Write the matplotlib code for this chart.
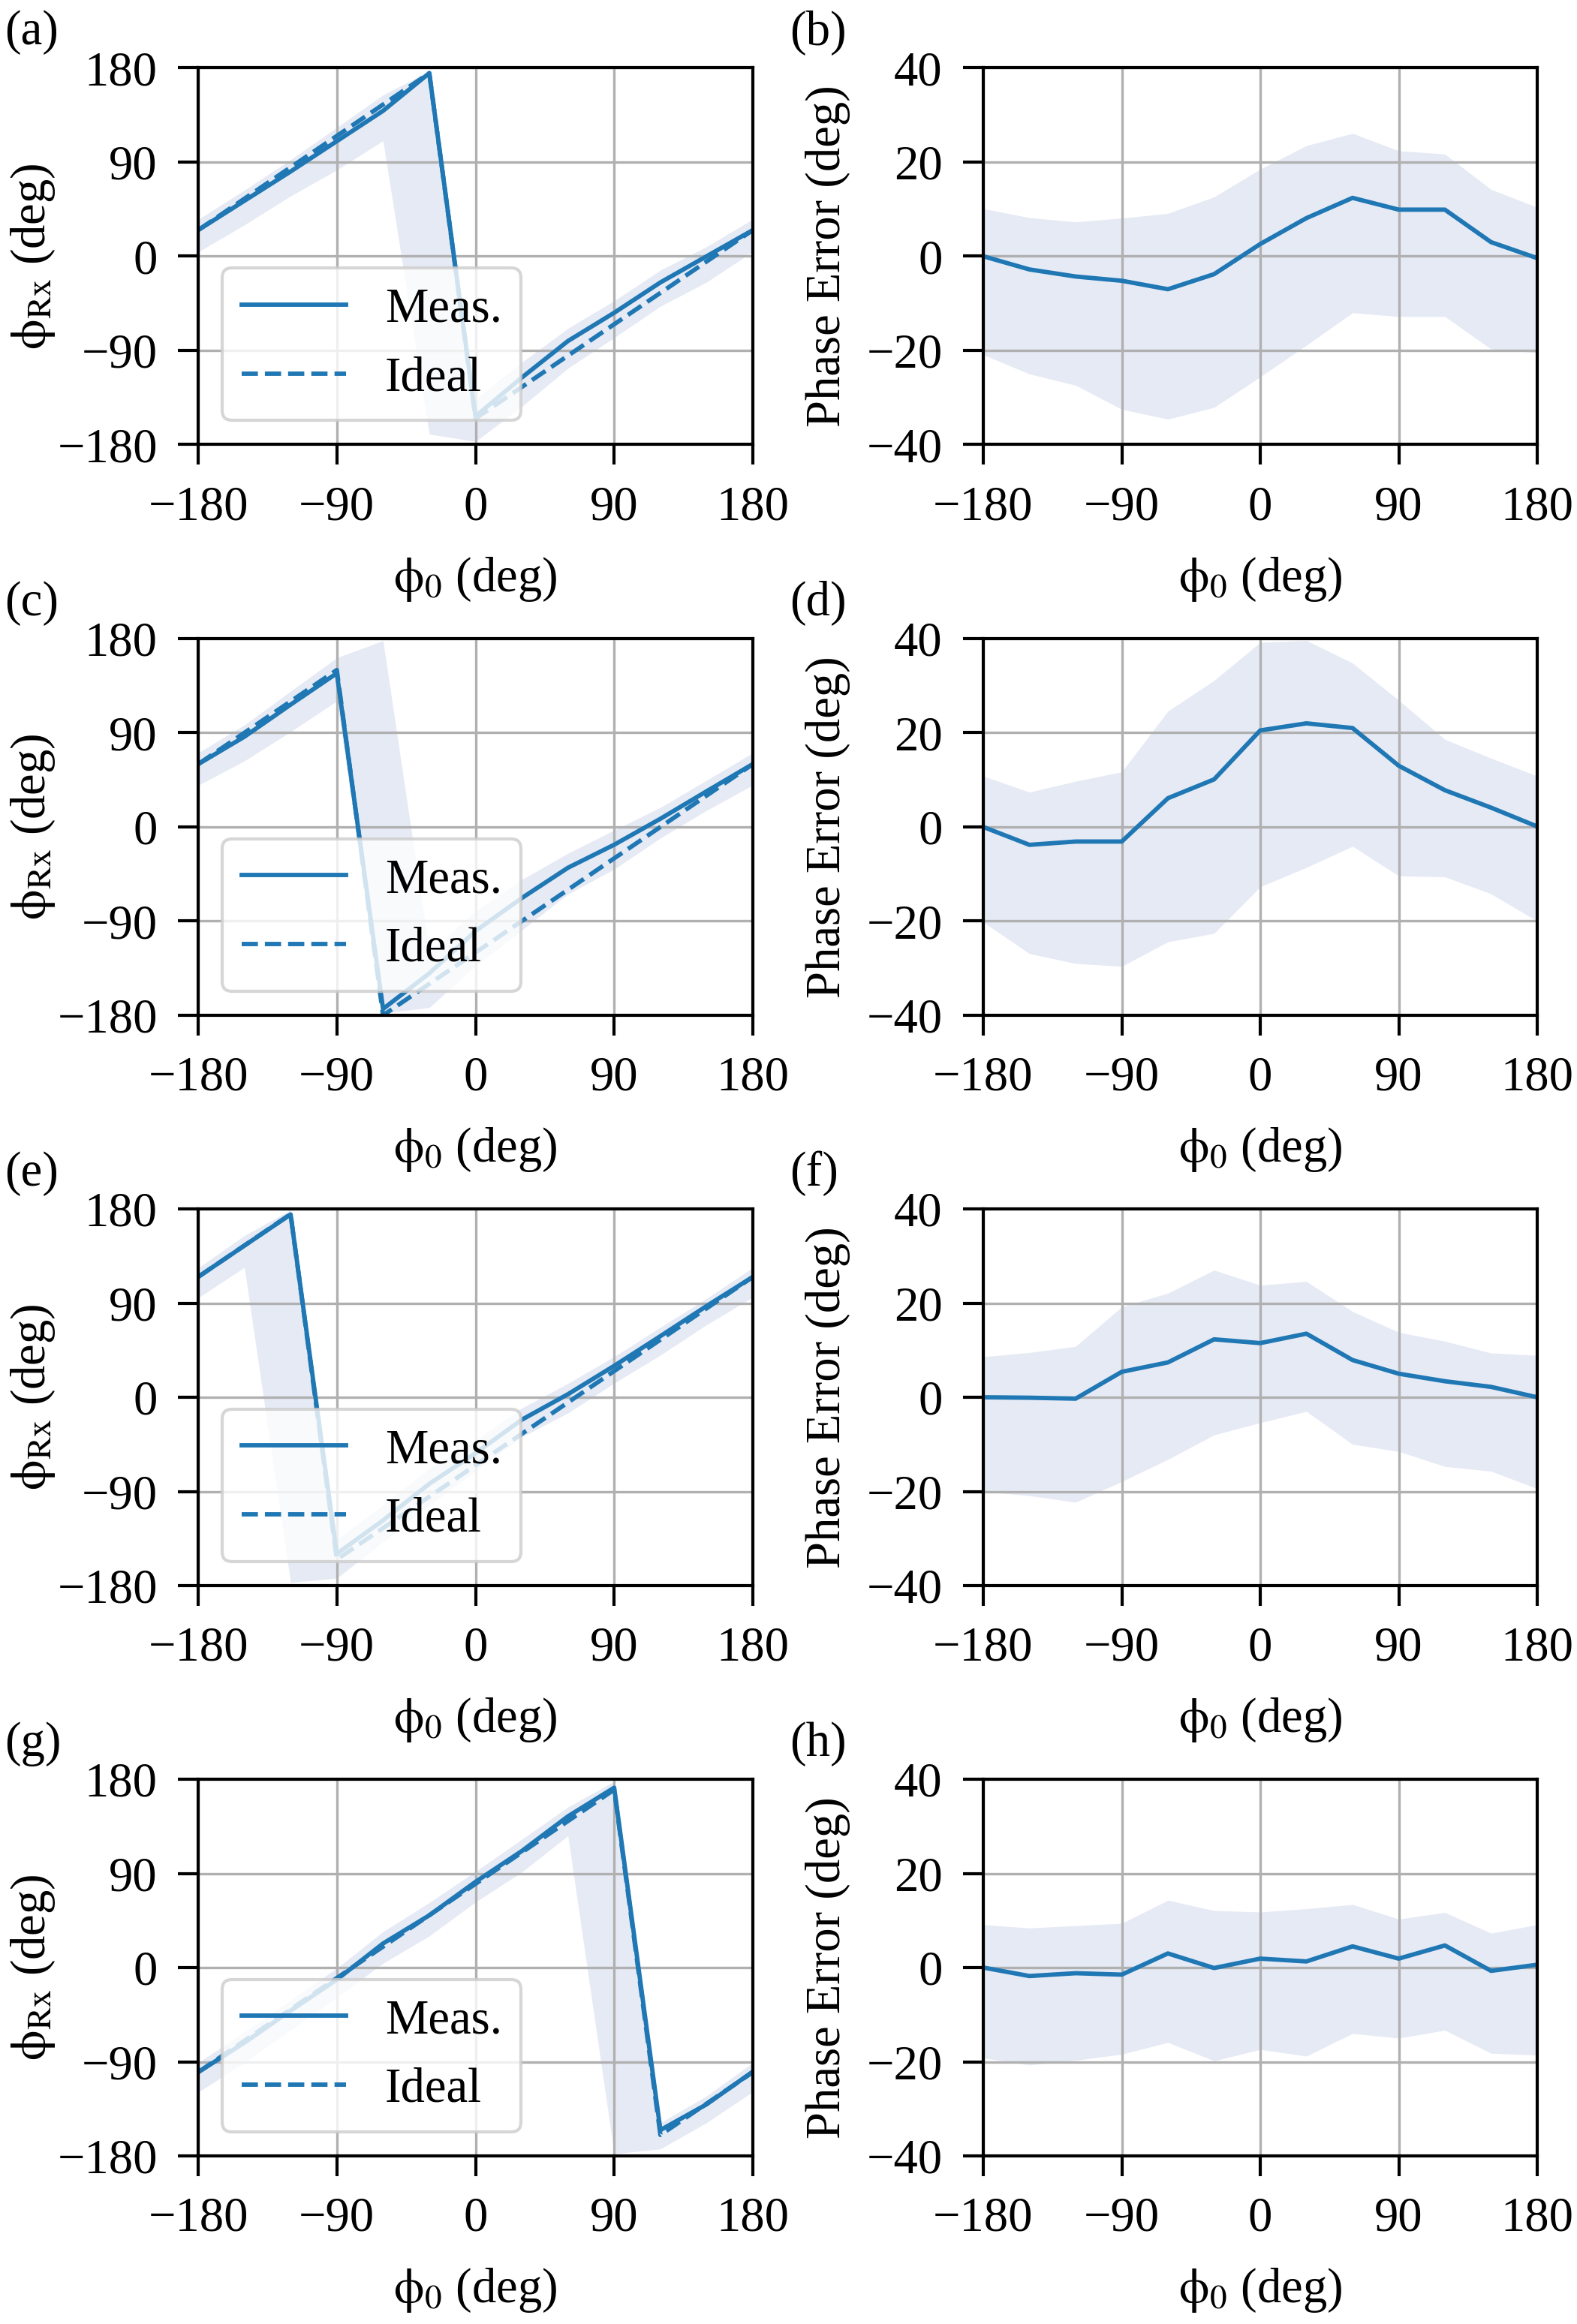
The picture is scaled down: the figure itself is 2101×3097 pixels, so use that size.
import matplotlib
matplotlib.use("Agg")
import matplotlib.pyplot as plt

plt.rcParams['font.family'] = 'serif'
plt.rcParams['font.serif'] = ['Liberation Serif', 'DejaVu Serif']
plt.rcParams['mathtext.fontset'] = 'stix'
plt.rcParams['font.size'] = 15.5
plt.rcParams['axes.linewidth'] = 1.0
for a in ('xtick', 'ytick'):
    plt.rcParams[a + '.major.size'] = 6.5
    plt.rcParams[a + '.major.width'] = 1.0
    plt.rcParams[a + '.major.pad'] = 6.5

phi0 = [-180, -150, -120, -90, -60, -30, 0, 30, 60, 90, 120, 150, 180]

# (a) / (b)
ideal_a = [25, 55, 85, 115, 145, 175, -155, -125, -95, -65, -35, -5, 25]
meas_a = [25, 53, 81, 110, 139, 175, -153, -116, -81, -54, -25, 0, 25]
lo_a = [4.1, 30, 57.6, 82.5, 110.4, -170, -177, -143.7, -107, -77.8, -47.8, -24.7, 4.5]
hi_a = [35.1, 63.2, 92.3, 123.1, 154.1, 177, -136.5, -101.5, -68.9, -42.6, -13.3, 9.2, 35.4]
err_b = [0, -2.8, -4.3, -5.2, -7.0, -3.8, 2.6, 8.1, 12.4, 9.9, 9.9, 3.0, -0.4]
errlo_b = [-20.9, -25.0, -27.4, -32.5, -34.6, -32.1, -25.6, -18.9, -12.0, -12.8, -12.8, -19.7, -20.5]
errhi_b = [10.1, 8.2, 7.3, 8.1, 9.1, 12.6, 18.5, 23.5, 26.1, 22.4, 21.7, 14.2, 10.4]

# (c) / (d)
ideal_c = [60, 90, 120, 150, -180, -150, -120, -90, -60, -30, 0, 30, 60]
meas_c = [60, 86.2, 116.9, 146.9, -173.9, -139.9, -99.5, -68, -39, -17, 7.8, 34.1, 60.1]
lo_c = [39.8, 63.1, 91, 120.4, -178, -172.6, -132.7, -98.6, -64.1, -40.4, -10.6, 15.8, 40]
hi_c = [70.8, 97.4, 129.7, 161.7, 178, -118.9, -80.8, -50.4, -25.2, -3.1, 18.6, 44.6, 70.8]
err_d = [0, -3.8, -3.1, -3.1, 6.1, 10.1, 20.5, 22.0, 21.0, 13.0, 7.8, 4.1, 0.1]
errlo_d = [-20.2, -26.9, -29.0, -29.6, -24.4, -22.6, -12.7, -8.6, -4.1, -10.4, -10.6, -14.2, -20.0]
errhi_d = [10.8, 7.4, 9.7, 11.7, 24.6, 31.1, 39.2, 39.6, 34.8, 26.9, 18.6, 14.6, 10.8]

# (e) / (f)
ideal_e = [115, 145, 175, -155, -125, -95, -65, -35, -5, 25, 55, 85, 115]
meas_e = [115, 144.9, 174.7, -149.6, -117.6, -82.7, -53.5, -21.5, 2.9, 30, 58.4, 87.2, 115]
lo_e = [95, 124.1, -177, -172.9, -138.2, -103, -70.4, -38, -15, 13.5, 40.3, 69.3, 95.6]
hi_e = [123.6, 154.5, 179, -135.8, -102.9, -68, -41.2, -10.4, 13.2, 38.8, 66.9, 94.4, 123.9]
err_f = [0, -0.1, -0.3, 5.4, 7.4, 12.3, 11.5, 13.5, 7.9, 5.0, 3.4, 2.2, 0]
errlo_f = [-20.0, -20.9, -22.3, -17.9, -13.2, -8.0, -5.4, -3.0, -10.0, -11.5, -14.7, -15.7, -19.4]
errhi_f = [8.6, 9.5, 10.8, 19.2, 22.1, 27.0, 23.8, 24.6, 18.2, 13.8, 11.9, 9.4, 8.9]

# (g) / (h)
ideal_g = [-100, -70, -40, -10, 20, 50, 80, 110, 140, 170, -160, -130, -100]
meas_g = [-100, -71.8, -41.2, -11.5, 23, 49.9, 81.9, 111.3, 144.5, 171.9, -155.3, -130.7, -99.4]
lo_g = [-119.2, -90.7, -59.7, -28.4, 4.1, 30.2, 62.6, 91.2, 126, -178, -173.3, -148.2, -118.6]
hi_g = [-90.9, -61.6, -31.1, -0.6, 34.3, 62.1, 91.8, 122.5, 153.4, 178, -148.3, -122.7, -90.9]
err_h = [0, -1.8, -1.2, -1.5, 3.0, -0.1, 1.9, 1.3, 4.5, 1.9, 4.7, -0.7, 0.6]
errlo_h = [-19.2, -20.7, -19.7, -18.4, -15.9, -19.8, -17.4, -18.8, -14.0, -15.0, -13.3, -18.2, -18.6]
errhi_h = [9.1, 8.4, 8.9, 9.4, 14.3, 12.1, 11.8, 12.5, 13.4, 10.3, 11.7, 7.3, 9.1]

rows = [
    ('(a)', '(b)', ideal_a, meas_a, lo_a, hi_a, err_b, errlo_b, errhi_b),
    ('(c)', '(d)', ideal_c, meas_c, lo_c, hi_c, err_d, errlo_d, errhi_d),
    ('(e)', '(f)', ideal_e, meas_e, lo_e, hi_e, err_f, errlo_f, errhi_f),
    ('(g)', '(h)', ideal_g, meas_g, lo_g, hi_g, err_h, errlo_h, errhi_h),
]

W, H = 2101, 3097
fig = plt.figure(figsize=(W / 300, H / 300), dpi=300)

blue = '#1f77b4'
band = '#e6eaf5'
tops = [90.5, 851, 1611, 2371]
ax_h = 502

for i, (la, lb, ideal, meas, lo, hi, err, elo, ehi) in enumerate(rows):
    top = tops[i]
    b = 1 - (top + ax_h) / H
    axl = fig.add_axes([264 / W, b, 739 / W, ax_h / H])
    axr = fig.add_axes([1310 / W, b, 738 / W, ax_h / H])

    # left: received phase vs. input phase
    axl.fill_between(phi0, lo, hi, color=band, lw=0)
    l2, = axl.plot(phi0, ideal, '--', color=blue, lw=1.4, label='Ideal')
    l1, = axl.plot(phi0, meas, '-', color=blue, lw=1.4, label='Meas.')
    axl.set_ylim(-180, 180)
    axl.set_yticks([-180, -90, 0, 90, 180])
    axl.set_ylabel(r'$\mathrm{\phi}_{\mathrm{Rx}}$ (deg)')
    axl.yaxis.set_label_coords(-0.255, 0.5)
    axl.legend(handles=[l1, l2], loc='lower left', handlelength=2.15)

    # right: phase error
    axr.fill_between(phi0, elo, ehi, color=band, lw=0)
    axr.plot(phi0, err, '-', color=blue, lw=1.4)
    axr.set_ylim(-40, 40)
    axr.set_yticks([-40, -20, 0, 20, 40])
    axr.set_ylabel('Phase Error (deg)')
    axr.yaxis.set_label_coords(-0.24, 0.5)

    for ax in (axl, axr):
        ax.set_xlim(-180, 180)
        ax.set_xticks([-180, -90, 0, 90, 180])
        ax.grid(True, color='#b0b0b0', lw=0.8)
        ax.set_xlabel(r'$\mathrm{\phi}_0$ (deg)', labelpad=8)

    fig.text(6 / W, 1 - (top - 47) / H, la, va='center', ha='left')
    fig.text(1052 / W, 1 - (top - 47) / H, lb, va='center', ha='left')

fig.savefig('out.png', dpi=300)
